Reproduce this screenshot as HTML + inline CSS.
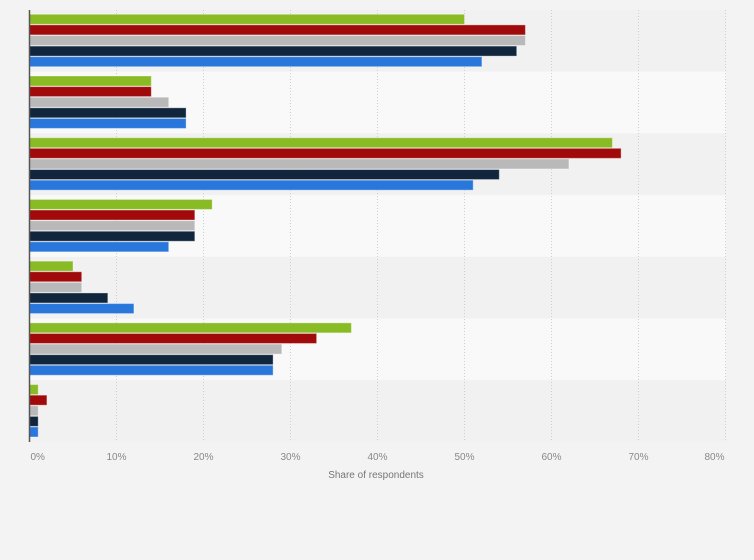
<!DOCTYPE html>
<html><head><meta charset="utf-8"><style>
html,body{margin:0;padding:0;background:#f3f3f3;}
svg{display:block;font-family:"Liberation Sans",sans-serif;}
</style></head><body>
<svg width="754" height="560" viewBox="0 0 754 560" xmlns="http://www.w3.org/2000/svg">
<rect x="0" y="0" width="754" height="560" fill="#f3f3f3"/>
<rect x="30" y="10" width="696" height="61.71" fill="#f1f1f1"/>
<rect x="30" y="71.71" width="696" height="61.71" fill="#f9f9f9"/>
<rect x="30" y="133.43" width="696" height="61.71" fill="#f1f1f1"/>
<rect x="30" y="195.14" width="696" height="61.71" fill="#f9f9f9"/>
<rect x="30" y="256.86" width="696" height="61.71" fill="#f1f1f1"/>
<rect x="30" y="318.57" width="696" height="61.71" fill="#f9f9f9"/>
<rect x="30" y="380.29" width="696" height="61.71" fill="#f1f1f1"/>
<g stroke="#cfcfcf" stroke-width="1" stroke-dasharray="1,2">
<line x1="116.5" y1="10" x2="116.5" y2="442"/>
<line x1="203.5" y1="10" x2="203.5" y2="442"/>
<line x1="290.5" y1="10" x2="290.5" y2="442"/>
<line x1="377.5" y1="10" x2="377.5" y2="442"/>
<line x1="464.5" y1="10" x2="464.5" y2="442"/>
<line x1="551.5" y1="10" x2="551.5" y2="442"/>
<line x1="638.5" y1="10" x2="638.5" y2="442"/>
<line x1="725.5" y1="10" x2="725.5" y2="442"/>
</g>
<g stroke="rgba(255,255,255,0.35)" stroke-width="1">
<rect x="29.5" y="14.3" width="435" height="10" fill="#89bb25"/>
<rect x="29.5" y="24.9" width="495.9" height="10" fill="#a10a0a"/>
<rect x="29.5" y="35.5" width="495.9" height="10" fill="#b9b9b9"/>
<rect x="29.5" y="46.1" width="487.2" height="10" fill="#11263c"/>
<rect x="29.5" y="56.7" width="452.4" height="10" fill="#2a77dc"/>

<rect x="29.5" y="76.01" width="121.8" height="10" fill="#89bb25"/>
<rect x="29.5" y="86.61" width="121.8" height="10" fill="#a10a0a"/>
<rect x="29.5" y="97.21" width="139.2" height="10" fill="#b9b9b9"/>
<rect x="29.5" y="107.81" width="156.6" height="10" fill="#11263c"/>
<rect x="29.5" y="118.41" width="156.6" height="10" fill="#2a77dc"/>

<rect x="29.5" y="137.73" width="582.9" height="10" fill="#89bb25"/>
<rect x="29.5" y="148.33" width="591.6" height="10" fill="#a10a0a"/>
<rect x="29.5" y="158.93" width="539.4" height="10" fill="#b9b9b9"/>
<rect x="29.5" y="169.53" width="469.8" height="10" fill="#11263c"/>
<rect x="29.5" y="180.13" width="443.7" height="10" fill="#2a77dc"/>

<rect x="29.5" y="199.44" width="182.7" height="10" fill="#89bb25"/>
<rect x="29.5" y="210.04" width="165.3" height="10" fill="#a10a0a"/>
<rect x="29.5" y="220.64" width="165.3" height="10" fill="#b9b9b9"/>
<rect x="29.5" y="231.24" width="165.3" height="10" fill="#11263c"/>
<rect x="29.5" y="241.84" width="139.2" height="10" fill="#2a77dc"/>

<rect x="29.5" y="261.16" width="43.5" height="10" fill="#89bb25"/>
<rect x="29.5" y="271.76" width="52.2" height="10" fill="#a10a0a"/>
<rect x="29.5" y="282.36" width="52.2" height="10" fill="#b9b9b9"/>
<rect x="29.5" y="292.96" width="78.3" height="10" fill="#11263c"/>
<rect x="29.5" y="303.56" width="104.4" height="10" fill="#2a77dc"/>

<rect x="29.5" y="322.87" width="321.9" height="10" fill="#89bb25"/>
<rect x="29.5" y="333.47" width="287.1" height="10" fill="#a10a0a"/>
<rect x="29.5" y="344.07" width="252.3" height="10" fill="#b9b9b9"/>
<rect x="29.5" y="354.67" width="243.6" height="10" fill="#11263c"/>
<rect x="29.5" y="365.27" width="243.6" height="10" fill="#2a77dc"/>

<rect x="29.5" y="384.58" width="8.7" height="10" fill="#89bb25"/>
<rect x="29.5" y="395.18" width="17.4" height="10" fill="#a10a0a"/>
<rect x="29.5" y="405.78" width="8.7" height="10" fill="#b9b9b9"/>
<rect x="29.5" y="416.38" width="8.7" height="10" fill="#11263c"/>
<rect x="29.5" y="426.98" width="8.7" height="10" fill="#2a77dc"/>
</g>
<line x1="29.5" y1="10" x2="29.5" y2="442" stroke="#555" stroke-width="1.5"/>
<g font-size="10" fill="#888">
<text x="30.5" y="460">0%</text>
<text x="116.5" y="460" text-anchor="middle">10%</text>
<text x="203.5" y="460" text-anchor="middle">20%</text>
<text x="290.5" y="460" text-anchor="middle">30%</text>
<text x="377.5" y="460" text-anchor="middle">40%</text>
<text x="464.5" y="460" text-anchor="middle">50%</text>
<text x="551.5" y="460" text-anchor="middle">60%</text>
<text x="638.5" y="460" text-anchor="middle">70%</text>
<text x="724.5" y="460" text-anchor="end">80%</text>
</g>
<text x="376" y="478" font-size="10" fill="#777" text-anchor="middle">Share of respondents</text>
</svg>
</body></html>
